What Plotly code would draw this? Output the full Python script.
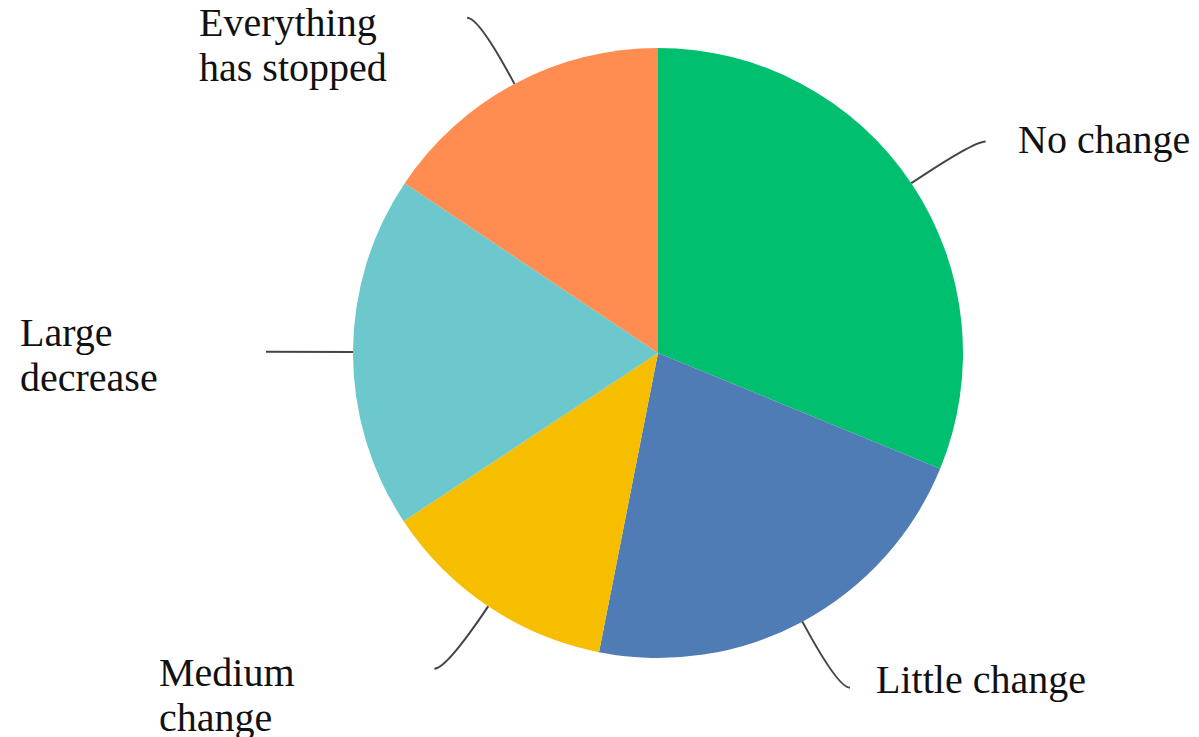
import math
import plotly.graph_objects as go

# ---- data ----
categories = ["No change", "Little change", "Medium change", "Large decrease", "Everything has stopped"]
values = [31.2, 21.9, 12.6, 18.7, 15.6]
colors = ["#00BF6F", "#507CB6", "#F7BE00", "#6CC8CC", "#FF8C50"]

# ---- layout / style constants ----
W, H = 1199, 737
CX, CY, R = 658, 353, 305
LEAD = 75        # radial length of connector
HOOK = 12        # horizontal hook at connector end
FONT = dict(family="Liberation Serif", size=40, color="#111111")
LINE_GAP = 45
valign = ["middle", "middle", "top", "middle", "top"]
label_gap = [30, 24, 277, 248, 270]   # distance between connector end and text start
label_dy = [-2, -8, 4, 3, 5]


def px(x):
    return x / W


def py(y):
    return 1 - y / H


fig = go.Figure()
fig.add_trace(go.Pie(
    labels=categories, values=values, sort=False, direction="clockwise", rotation=0,
    marker=dict(colors=colors, line=dict(width=0)),
    textinfo="none", hoverinfo="label+percent", showlegend=False,
    domain=dict(x=[(CX - R) / W, (CX + R) / W], y=[py(CY + R), py(CY - R)]),
))

total = sum(values)
shapes, annotations = [], []
cum = 0.0
for i, (cat, v) in enumerate(zip(categories, values)):
    mid = (cum + v / 2) / total * 2 * math.pi
    cum += v
    s, c = math.sin(mid), math.cos(mid)
    x0, y0 = CX + R * s, CY - R * c
    xc, yc = CX + (R + LEAD) * s, CY - (R + LEAD) * c
    right = s > 0.05
    x2 = xc + (HOOK if right else -HOOK)
    y2 = yc
    shapes.append(dict(
        type="path", xref="paper", yref="paper",
        path=f"M {px(x0)} {py(y0)} Q {px(xc)} {py(yc)} {px(x2)} {py(y2)}",
        line=dict(color="#444444", width=2),
    ))
    if right:
        lines = [cat]
        tx = x2 + label_gap[i]
    else:
        first, rest = cat.split(" ", 1)
        lines = [first, rest]
        tx = x2 - label_gap[i]
    n = len(lines)
    if valign[i] == "top":
        y_first = y2 + label_dy[i]
    else:
        y_first = y2 - (n - 1) * LINE_GAP / 2 + label_dy[i]
    for k, ln in enumerate(lines):
        annotations.append(dict(
            x=px(tx), y=py(y_first + k * LINE_GAP), xref="paper", yref="paper",
            text=ln, showarrow=False, xanchor="left", yanchor="middle",
            font=FONT,
        ))

fig.update_layout(
    width=W, height=H, margin=dict(l=0, r=0, t=0, b=0),
    paper_bgcolor="white", plot_bgcolor="white",
    shapes=shapes, annotations=annotations,
)
fig.write_html("out.html", config={"displayModeBar": False},
               post_script="document.body.style.margin='0';document.body.style.overflow='hidden';")
